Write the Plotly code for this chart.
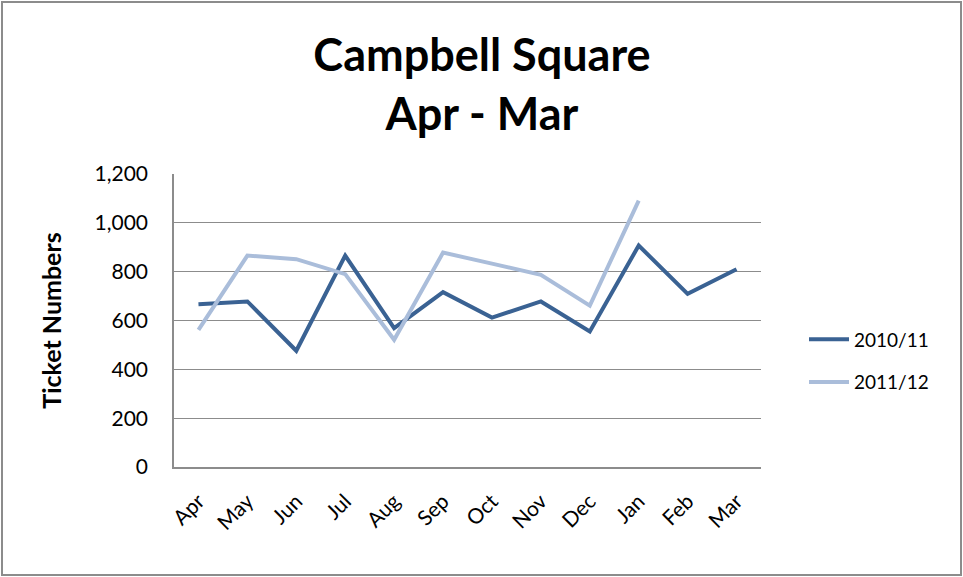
import plotly.graph_objects as go

months = ["Apr", "May", "Jun", "Jul", "Aug", "Sep", "Oct", "Nov", "Dec", "Jan", "Feb", "Mar"]
s2010_11 = [667, 678, 476, 866, 569, 716, 612, 678, 555, 907, 709, 810]
months_2011_12 = ["Apr", "May", "Jun", "Jul", "Aug", "Sep", "Oct", "Nov", "Dec", "Jan"]
s2011_12 = [562, 866, 851, 790, 521, 878, 833, 787, 661, 1091]

FONT = "Lato"
W, H = 963, 577
L, R, T, B = 174, 202, 174, 110
pw, ph = W - L - R, H - T - B

fig = go.Figure()
fig.add_trace(go.Scatter(x=months, y=s2010_11, mode="lines", name="2010/11",
                         legendgroup="a", line=dict(color="#3A6293", width=4)))
fig.add_trace(go.Scatter(x=months_2011_12, y=s2011_12, mode="lines", name="2011/12",
                         legendgroup="b", line=dict(color="#AABDDA", width=4)))

def px_x(p):
    return (p - L) / pw

def px_y(p):
    return (H - B - p) / ph

fig.update_layout(
    width=W, height=H,
    margin=dict(l=L, r=R, t=T, b=B),
    paper_bgcolor="white", plot_bgcolor="white",
    font=dict(family=FONT, color="black"),
    title=dict(text="<b>Campbell Square<br>Apr - Mar</b>", x=482 / W,
               xanchor="center", y=1 - 71 / H, yanchor="middle",
               font=dict(family=FONT, size=45, color="black")),
    showlegend=True,
    legend=dict(x=px_x(804), xanchor="left", y=px_y(361), yanchor="middle",
                font=dict(family=FONT, size=19, color="black"),
                tracegroupgap=15, itemwidth=40, bgcolor="rgba(0,0,0,0)"),
    xaxis=dict(type="category", categoryorder="array", categoryarray=months,
               range=[-0.5, 11.5], showgrid=False, showline=True, linecolor="#8C8C8C",
               linewidth=1.5, ticks="outside", ticklen=12, tickcolor="rgba(0,0,0,0)",
               tickangle=-45,
               tickfont=dict(family=FONT, size=21, color="black"), fixedrange=True),
    yaxis=dict(range=[0, 1200], dtick=200, tickformat=",", showgrid=True,
               gridcolor="#8C8C8C", gridwidth=1, showline=True, linecolor="#8C8C8C",
               linewidth=1.5, ticks="outside", ticklen=20, tickcolor="rgba(0,0,0,0)",
               zeroline=False,
               tickfont=dict(family=FONT, size=21, color="black"),
               title=dict(text="<b>Ticket Numbers</b>", standoff=26,
                          font=dict(family=FONT, size=25, color="black"))),
)

fig.add_shape(type="rect", xref="paper", yref="paper",
              x0=px_x(2), x1=px_x(961), y0=px_y(575), y1=px_y(2),
              line=dict(color="#8C8C8C", width=2), fillcolor="rgba(0,0,0,0)", layer="below")

fig.write_html("out.html", config={"displayModeBar": False},
               post_script="document.body.style.margin='0';")
